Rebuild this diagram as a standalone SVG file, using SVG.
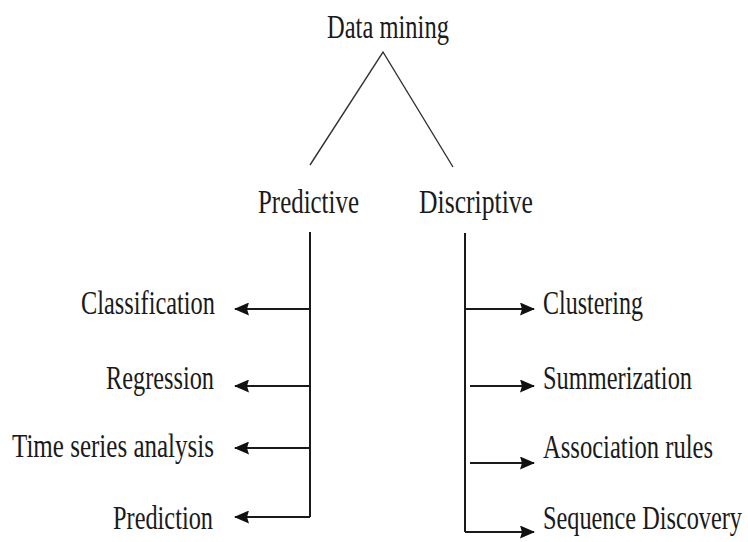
<svg xmlns="http://www.w3.org/2000/svg" width="748" height="542" viewBox="0 0 748 542">
<style>
.t{font-family:"Liberation Serif","Times New Roman",serif;font-size:33px;fill:#1a1a1a}
.c{stroke:#1a1a1a;stroke-width:2;fill:none}
.d{stroke:#333;stroke-width:1.4;fill:none}
</style>
<defs>
<marker id="ah" viewBox="0 0 15 13" refX="14" refY="6.5" markerWidth="15" markerHeight="13" markerUnits="userSpaceOnUse" orient="auto">
<path d="M0,0 L15,6.5 L0,13 L2,6.5 Z" fill="#111"/>
</marker>
</defs>
<rect width="748" height="542" fill="#fff"/>
<g id="connectors">
<path class="d" d="M310,165 L383,52 L453,167"/>
<path class="c" d="M310,232 V517"/>
<path class="c" d="M465,233 V532"/>
<line class="c" x1="310" y1="309" x2="235" y2="309" marker-end="url(#ah)"/>
<line class="c" x1="310" y1="386" x2="235" y2="386" marker-end="url(#ah)"/>
<line class="c" x1="310" y1="448" x2="235" y2="448" marker-end="url(#ah)"/>
<line class="c" x1="310" y1="517" x2="235" y2="517" marker-end="url(#ah)"/>
<line class="c" x1="465" y1="309" x2="534" y2="309" marker-end="url(#ah)"/>
<line class="c" x1="470" y1="386" x2="534" y2="386" marker-end="url(#ah)"/>
<line class="c" x1="470" y1="463" x2="534" y2="463" marker-end="url(#ah)"/>
<line class="c" x1="465" y1="532" x2="534" y2="532" marker-end="url(#ah)"/>
</g>
<g id="data-mining"><text class="t" transform="translate(327,38) scale(0.737,1)" textLength="165.5" lengthAdjust="spacingAndGlyphs">Data mining</text></g>
<g id="predictive"><text class="t" transform="translate(258,213) scale(0.737,1)" textLength="137" lengthAdjust="spacingAndGlyphs">Predictive</text></g>
<g id="discriptive"><text class="t" transform="translate(419,213) scale(0.737,1)" textLength="154.7" lengthAdjust="spacingAndGlyphs">Discriptive</text></g>
<g id="classification"><text class="t" transform="translate(81,314) scale(0.737,1)" textLength="181.8" lengthAdjust="spacingAndGlyphs">Classification</text></g>
<g id="regression"><text class="t" transform="translate(106,389) scale(0.737,1)" textLength="146.5" lengthAdjust="spacingAndGlyphs">Regression</text></g>
<g id="time-series"><text class="t" transform="translate(12,457) scale(0.737,1)" textLength="274.1" lengthAdjust="spacingAndGlyphs">Time series analysis</text></g>
<g id="prediction"><text class="t" transform="translate(113,529) scale(0.737,1)" textLength="135.7" lengthAdjust="spacingAndGlyphs">Prediction</text></g>
<g id="clustering"><text class="t" transform="translate(543,314) scale(0.737,1)" textLength="135.7" lengthAdjust="spacingAndGlyphs">Clustering</text></g>
<g id="summerization"><text class="t" transform="translate(543,389) scale(0.737,1)" textLength="202.2" lengthAdjust="spacingAndGlyphs">Summerization</text></g>
<g id="association"><text class="t" transform="translate(543,458) scale(0.737,1)" textLength="230.7" lengthAdjust="spacingAndGlyphs">Association rules</text></g>
<g id="sequence"><text class="t" transform="translate(543,529) scale(0.737,1)" textLength="270" lengthAdjust="spacingAndGlyphs">Sequence Discovery</text></g>
</svg>
